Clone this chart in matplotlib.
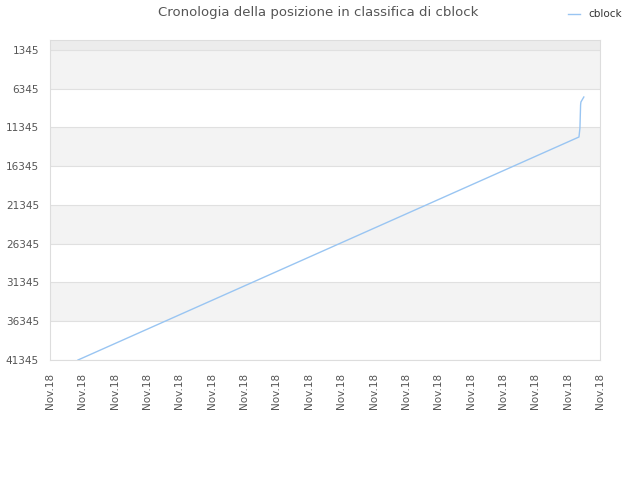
import numpy as np
from matplotlib import pyplot as plt

# data
x_pos = [0.865, 16.35, 16.38, 16.40, 16.41, 16.50]
rank = [41345, 12571, 11410, 8442, 8055, 7410]
y_ticks = [1345, 6345, 11345, 16345, 21345, 26345, 31345, 36345, 41345]
x_ticks = list(range(18))
x_labels = ['Nov.18'] * len(x_ticks)

line_col = '#99c5f2'
txt_col = '#555555'

fig = plt.figure(figsize=(6.4, 4.8), dpi=100)
ax = fig.add_axes([50/640, 1 - 360/480, 550/640, 320/480])

# alternating background bands
ax.axhspan(55, 1345, color='#ececec', lw=0, zorder=0)
for i in range(0, len(y_ticks) - 1, 2):
    ax.axhspan(y_ticks[i], y_ticks[i+1], color='#f3f3f3', lw=0, zorder=0)
for yt in y_ticks:
    ax.axhline(yt, color='#e0e0e0', lw=0.8, zorder=1)

ax.plot(x_pos, rank, color=line_col, lw=1, label='cblock', zorder=3)

ax.set_xlim(0, 17)
ax.set_ylim(41345, 55)
ax.set_yticks(y_ticks)
ax.set_yticklabels([str(v) for v in y_ticks])
ax.set_xticks(x_ticks)
ax.set_xticklabels(x_labels, rotation=90)
ax.tick_params(colors=txt_col, labelsize=7.5, length=0)
ax.tick_params(axis='x', pad=9)
ax.tick_params(axis='y', pad=8)
for s in ax.spines.values():
    s.set_color('#dddddd')

fig.suptitle('Cronologia della posizione in classifica di cblock', x=0.497, y=0.987,
             fontsize=9.5, color=txt_col)
leg = fig.legend(loc='upper right', bbox_to_anchor=(0.987, 1.0), frameon=False,
                 fontsize=7.5, handlelength=1.2)
for t in leg.get_texts():
    t.set_color('#333333')

fig.savefig('out.png', dpi=100)
